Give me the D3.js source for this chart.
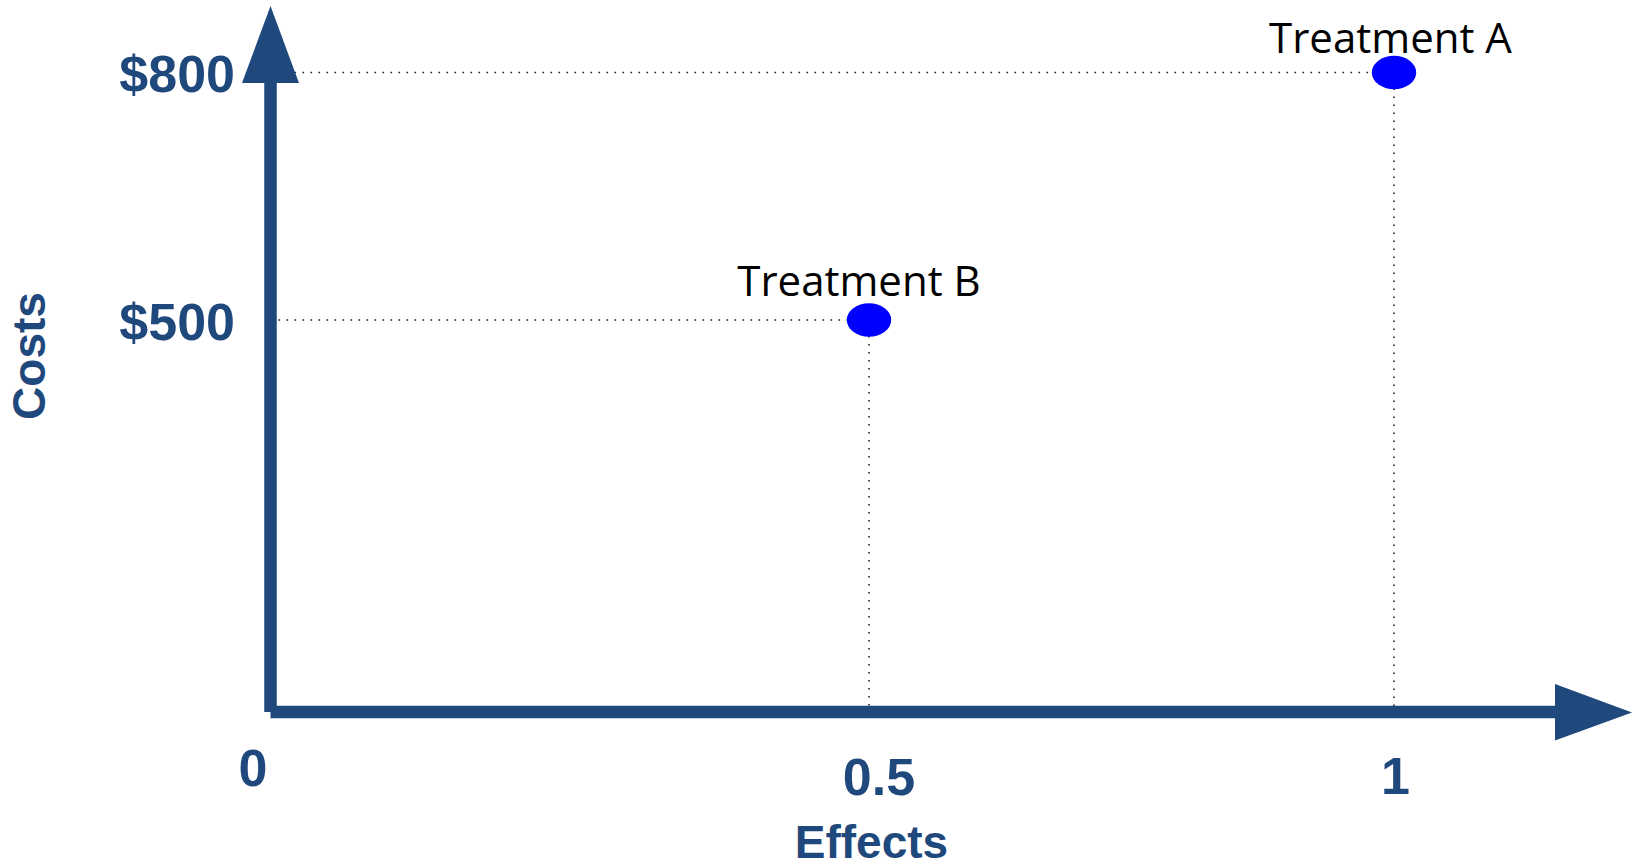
<!DOCTYPE html>
<html>
<head>
<meta charset="utf-8">
<script src="https://cdn.jsdelivr.net/npm/d3@7/dist/d3.min.js"></script>
<style>
  html, body { margin: 0; padding: 0; background: #ffffff; }
  svg { display: block; }
</style>
</head>
<body>
<svg id="chart" width="1632" height="868"></svg>
<script>
// Treatments compared on effect (x) and cost (y)
const treatments = ["Treatment A", "Treatment B"];
const effects = [1, 0.5];
const costs = [800, 500];

// Axis ticks and their labels
const xTicks = [0, 0.5, 1];
const xTickLabels = ["0", "0.5", "1"];
const yTicks = [500, 800];
const yTickLabels = ["$500", "$800"];

const xTitle = "Effects";
const yTitle = "Costs";

// Layout
const W = 1632, H = 868;
const AXIS_COLOR = "#1F497D";
const ORIGIN = { x: 270.5, y: 712 };
const AXIS_W = 12.5;

const svg = d3.select("#chart");

// Schematic (piecewise) scales for the cost-effectiveness plane
const x = d3.scaleLinear().domain([0, 0.5, 1]).range([ORIGIN.x, 869, 1394]);
const y = d3.scaleLinear().domain([0, 500, 800]).range([ORIGIN.y, 320, 72.5]);

const pts = treatments.map((name, i) => ({ name, effect: effects[i], cost: costs[i] }));

// Dotted guide lines from each treatment to the axes
const guides = svg.append("g")
  .attr("stroke", "#222")
  .attr("stroke-width", 1.6)
  .attr("stroke-dasharray", "1.6,6.4")
  .attr("fill", "none");

pts.forEach(d => {
  guides.append("line")
    .attr("x1", x(0)).attr("x2", x(d.effect))
    .attr("y1", y(d.cost)).attr("y2", y(d.cost));
  guides.append("line")
    .attr("x1", x(d.effect)).attr("x2", x(d.effect))
    .attr("y1", y(d.cost)).attr("y2", y(0));
});

// Axes with arrowheads
const axes = svg.append("g");
axes.append("line")
  .attr("x1", ORIGIN.x).attr("x2", ORIGIN.x)
  .attr("y1", ORIGIN.y).attr("y2", 80)
  .attr("stroke", AXIS_COLOR).attr("stroke-width", AXIS_W);
axes.append("line")
  .attr("x1", ORIGIN.x).attr("x2", 1558)
  .attr("y1", ORIGIN.y).attr("y2", ORIGIN.y)
  .attr("stroke", AXIS_COLOR).attr("stroke-width", AXIS_W);

// Up arrow on the cost axis
axes.append("path")
  .attr("d", `M${ORIGIN.x},6 L${ORIGIN.x + 28.5},83 L${ORIGIN.x - 28.5},83 Z`)
  .attr("fill", AXIS_COLOR);
// Right arrow on the effect axis
axes.append("path")
  .attr("d", `M${W},${ORIGIN.y + 0.5} L1555,${ORIGIN.y - 28} L1555,${ORIGIN.y + 28.5} Z`)
  .attr("fill", AXIS_COLOR);

// Tick labels
const tickFont = "'Liberation Sans', Arial, sans-serif";
const xNudge = { 0: { dx: -17.5, dy: 74 }, 0.5: { dx: 10, dy: 83 }, 1: { dx: 1.5, dy: 82 } };
svg.append("g").selectAll("text")
  .data(xTicks)
  .join("text")
  .attr("x", d => x(d) + xNudge[d].dx)
  .attr("y", d => y(0) + xNudge[d].dy)
  .attr("text-anchor", "middle")
  .attr("font-family", tickFont)
  .attr("font-weight", "bold")
  .attr("font-size", 52)
  .attr("fill", AXIS_COLOR)
  .text((d, i) => xTickLabels[i]);

svg.append("g").selectAll("text")
  .data(yTicks)
  .join("text")
  .attr("x", 235)
  .attr("y", d => y(d) + 19.5)
  .attr("text-anchor", "end")
  .attr("font-family", tickFont)
  .attr("font-weight", "bold")
  .attr("font-size", 52)
  .attr("fill", AXIS_COLOR)
  .text((d, i) => yTickLabels[i]);

// Axis titles
svg.append("text")
  .attr("x", 871.5).attr("y", 858)
  .attr("text-anchor", "middle")
  .attr("font-family", tickFont)
  .attr("font-weight", "bold")
  .attr("font-size", 46)
  .attr("fill", AXIS_COLOR)
  .text(xTitle);

svg.append("text")
  .attr("transform", "translate(45,356) rotate(-90)")
  .attr("text-anchor", "middle")
  .attr("font-family", tickFont)
  .attr("font-weight", "bold")
  .attr("font-size", 46)
  .attr("fill", AXIS_COLOR)
  .text(yTitle);

// Treatment markers
svg.append("g").selectAll("ellipse")
  .data(pts)
  .join("ellipse")
  .attr("cx", d => x(d.effect))
  .attr("cy", d => y(d.cost))
  .attr("rx", 22.2)
  .attr("ry", 16.7)
  .attr("fill", "#0000FF");

// Treatment labels
const labelNudge = { "Treatment A": { dx: -3.5, dy: -20 }, "Treatment B": { dx: -10, dy: -24.3 } };
svg.append("g").selectAll("text")
  .data(pts)
  .join("text")
  .attr("x", d => x(d.effect) + labelNudge[d.name].dx)
  .attr("y", d => y(d.cost) + labelNudge[d.name].dy)
  .attr("text-anchor", "middle")
  .attr("font-family", "'Open Sans', 'Noto Sans', sans-serif")
  .attr("font-size", 42)
  .attr("fill", "#000")
  .text(d => d.name);
</script>
</body>
</html>
